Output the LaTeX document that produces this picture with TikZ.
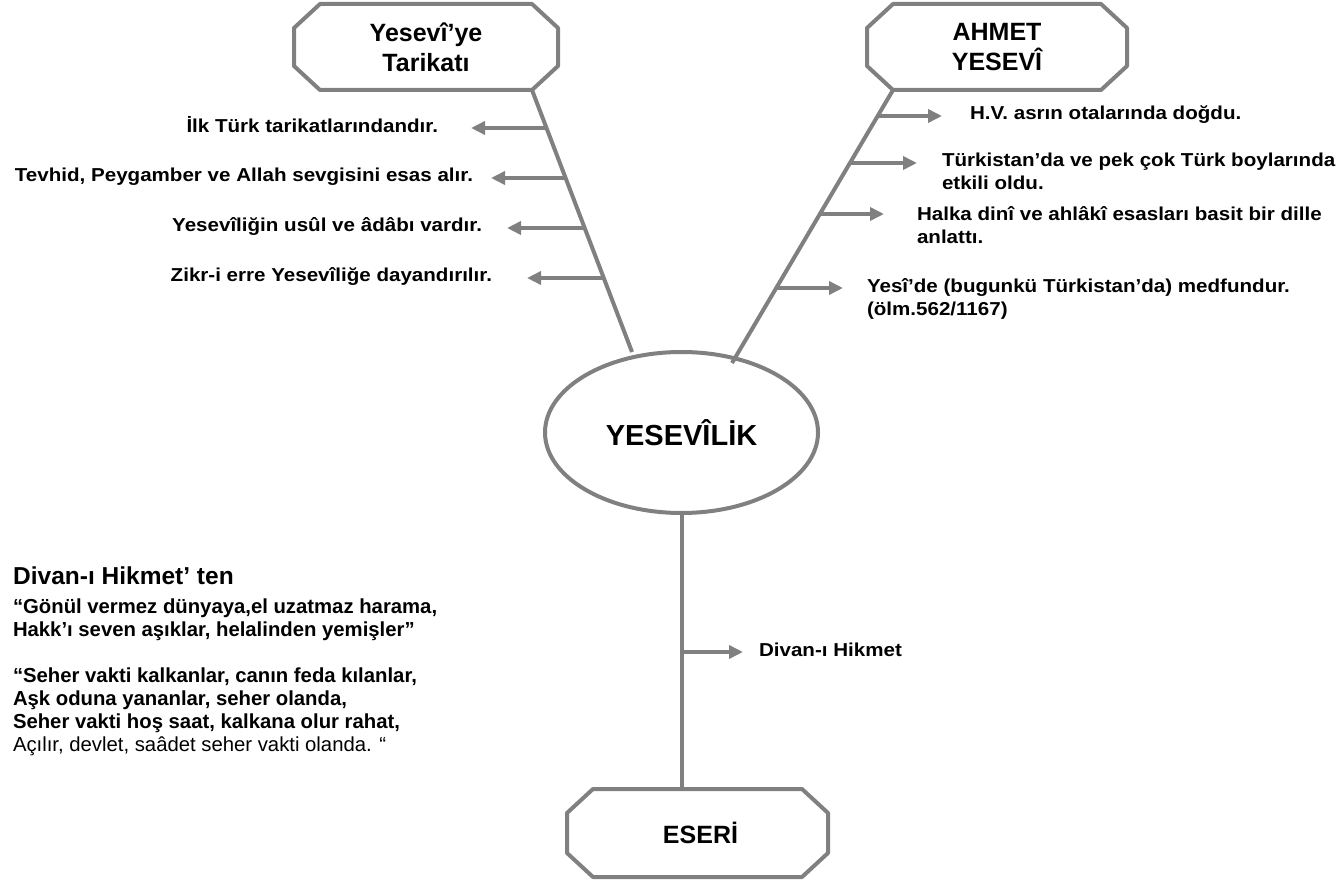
\documentclass[tikz,border=0pt]{standalone}
\usepackage{fontspec}
\setmainfont{Liberation Sans}
\newfontfamily\lblfont{Liberation Sans}[FakeStretch=1.1]
\usetikzlibrary{arrows.meta,shapes.geometric,calc}
\definecolor{lgray}{RGB}{128,128,128}
\tikzset{
  ln/.style={draw=lgray, line width=4pt},
  arr/.style={draw=lgray, line width=4pt, -{Triangle[length=14pt,width=13pt]}},
  boxn/.style={inner sep=0pt, outer sep=0pt, align=center, minimum height=86pt,
    font=\bfseries\fontsize{25}{30}\selectfont},
  lab/.style={inner sep=0pt, outer sep=0pt, align=left,
    font=\lblfont\bfseries\fontsize{18.7}{23}\selectfont},
  poem/.style={inner sep=0pt, outer sep=0pt, align=left,
    font=\bfseries\fontsize{20.3}{23}\selectfont},
}
\newcommand\octoutline[1]{%
  \draw[ln, line join=round]
    ([xshift=26pt]#1.north west) -- ([xshift=-26pt]#1.north east)
    -- ([yshift=-24pt]#1.north east) -- ([yshift=24pt]#1.south east)
    -- ([xshift=-26pt]#1.south east) -- ([xshift=26pt]#1.south west)
    -- ([yshift=24pt]#1.south west) -- ([yshift=-24pt]#1.north west) -- cycle;}
\begin{document}
\begin{tikzpicture}[x=1pt,y=-1pt]
\useasboundingbox (0,0) rectangle (1340,882);

% boxes
\node[boxn, minimum width=264pt] (tarikat) at (426,47) {Yesevî’ye\\Tarikatı};
\octoutline{tarikat}
\node[boxn, minimum width=260pt] (ahmet) at (997,47) {AHMET\\YESEVÎ};
\octoutline{ahmet}
\node[boxn, minimum width=261pt, minimum height=88pt, text width=261pt] (eseri) at (697.5,833) {\hspace*{6pt}ESERİ};
\octoutline{eseri}

% central ellipse
\node[ellipse, draw=lgray, line width=4pt, fill=white, minimum width=273pt, minimum height=161pt,
      inner sep=0pt, font=\bfseries\fontsize{29}{34}\selectfont] (yesevilik) at (681.5,432.5) {YESEVÎLİK};

% branch lines
\coordinate (lend) at (632,352);
\coordinate (rend) at (732,363);
\draw[ln] ([xshift=-26pt]tarikat.south east) -- (lend);
\draw[ln] ([xshift=26pt]ahmet.south west) -- (rend);
\draw[ln] (yesevilik.south) -- (yesevilik.south |- eseri.north);

% left arrows
\coordinate (ls1) at (547,128); \coordinate (lt1) at (471,128);
\coordinate (ls2) at (566,178); \coordinate (lt2) at (491,178);
\coordinate (ls3) at (585,228); \coordinate (lt3) at (507,228);
\coordinate (ls4) at (604,278); \coordinate (lt4) at (527,278);
\draw[arr] (ls1) -- (lt1);
\draw[arr] (ls2) -- (lt2);
\draw[arr] (ls3) -- (lt3);
\draw[arr] (ls4) -- (lt4);
\node[lab, anchor=base east] (l1) at (438,133) {İlk Türk tarikatlarındandır.};
\node[lab, anchor=base east] (l2) at (473,182) {Tevhid, Peygamber ve Allah sevgisini esas alır.};
\node[lab, anchor=base east] (l3) at (482,232) {Yesevîliğin usûl ve âdâbı vardır.};
\node[lab, anchor=base east] (l4) at (492,282) {Zikr-i erre Yesevîliğe dayandırılır.};

% right arrows
\coordinate (rs1) at (877,116); \coordinate (rt1) at (942,116);
\coordinate (rs2) at (849,163); \coordinate (rt2) at (917,163);
\coordinate (rs3) at (819,214); \coordinate (rt3) at (884,214);
\coordinate (rs4) at (775,288); \coordinate (rt4) at (843,288);
\draw[arr] (rs1) -- (rt1);
\draw[arr] (rs2) -- (rt2);
\draw[arr] (rs3) -- (rt3);
\draw[arr] (rs4) -- (rt4);
\node[lab, anchor=base west] (r1) at (970,120) {H.V. asrın otalarında doğdu.};
\node[lab, anchor=base west] (r2) at (942,190) {Türkistan’da ve pek çok Türk boylarında\\etkili oldu.};
\node[lab, anchor=base west] (r3) at (917,244) {Halka dinî ve ahlâkî esasları basit bir dille\\anlattı.};
\node[lab, anchor=base west] (r4) at (867,316) {Yesî’de (bugunkü Türkistan’da) medfundur.\\(ölm.562/1167)};

% bottom arrow
\coordinate (bs) at (682,652); \coordinate (bt) at (743,652);
\draw[arr] (bs) -- (bt);
\node[lab, anchor=base west] (divan) at (759,656) {Divan-ı Hikmet};

% poem
\node[inner sep=0pt, anchor=base west, font=\bfseries\fontsize{24.5}{28}\selectfont] (ptitle) at (13,584) {Divan-ı Hikmet’ ten};
\node[poem, anchor=base west] (ptext) at (13,751) {“Gönül vermez dünyaya,el uzatmaz harama,\\
Hakk’ı seven aşıklar, helalinden yemişler”\\[23pt]
“Seher vakti kalkanlar, canın feda kılanlar,\\
Aşk oduna yananlar, seher olanda,\\
Seher vakti hoş saat, kalkana olur rahat,\\
{\mdseries Açılır, devlet, saâdet seher vakti olanda. “}};
\end{tikzpicture}
\end{document}
